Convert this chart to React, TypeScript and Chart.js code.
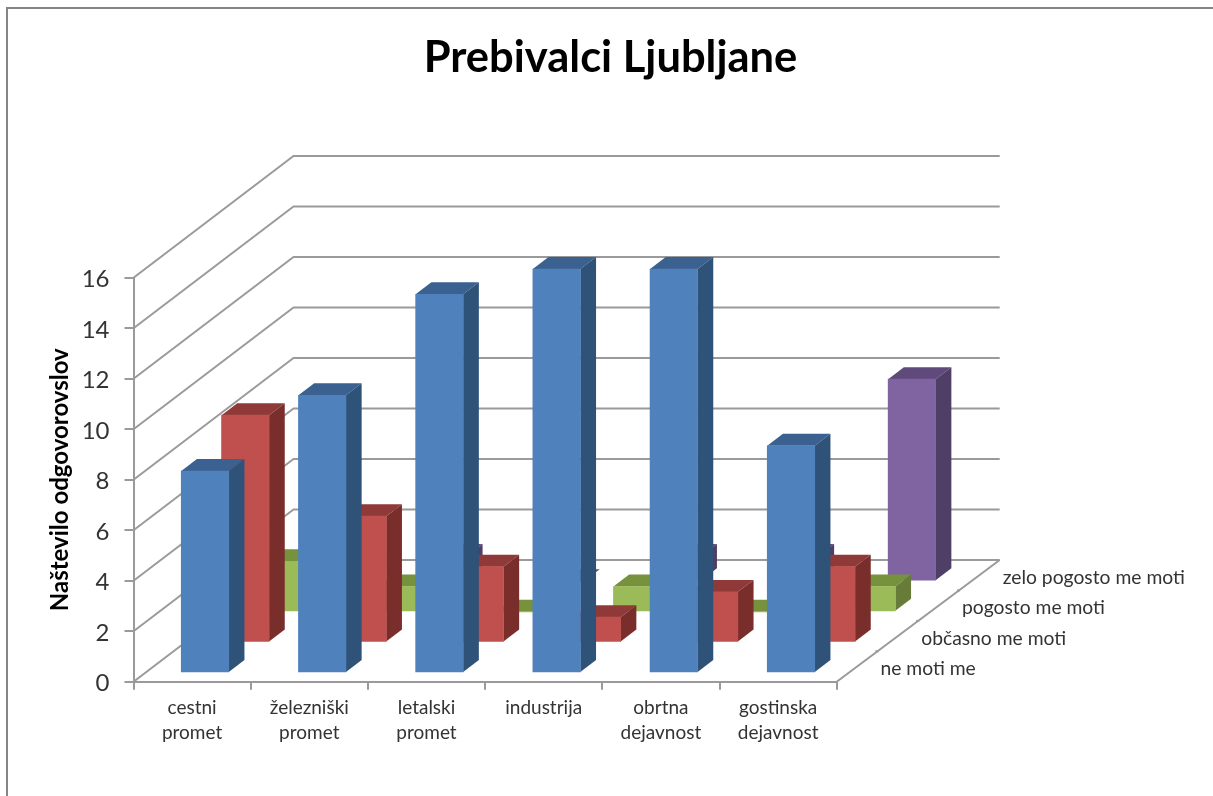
import React, { useEffect, useRef } from "react";
import { Chart, registerables } from "chart.js";

Chart.register(...registerables);

const categories = [
  ["cestni", "promet"],
  ["železniški", "promet"],
  ["letalski", "promet"],
  ["industrija"],
  ["obrtna", "dejavnost"],
  ["gostinska", "dejavnost"],
];
const seriesNames = ["ne moti me", "občasno me moti", "pogosto me moti", "zelo pogosto me moti"];
const neMotiMe = [8, 11, 15, 16, 16, 9];
const obcasnoMeMoti = [9, 5, 3, 1, 2, 3];
const pogostoMeMoti = [2, 1, 0, 1, 0, 1];
const zeloPogostoMeMoti = [0, 1, 0, 1, 1, 8];

const titleText = "Prebivalci Ljubljane";
const yTitleText = "Naštevilo odgovorovslov";

const FONT = "Lato, Carlito, Calibri, sans-serif";
const TEXT = "#333333";
const GRID = "#9a9a9a";

const frontColors = ["#4f81bd", "#c0504d", "#9bbb59", "#8064a2"];
const topColors = ["#3a6190", "#8f3a38", "#76923c", "#604a7b"];
const sideColors = ["#2f5279", "#7a2e2c", "#667c38", "#4f3e66"];

// oblique projection
const WALL_DX = 160;
const WALL_DY = -121.7;
const SERIES_DX = 40.3;
const SERIES_DY = -30.6;
const FIRST_DX = 12.9;
const FIRST_DY = -8.7;
const BAR_DX = 15.7;
const BAR_DY = -12;

const wallsPlugin = {
  id: "walls",
  beforeDraw(chart: any) {
    const { ctx, width } = chart;
    ctx.save();
    ctx.fillStyle = "#ffffff";
    ctx.fillRect(0, 0, width, chart.height);
    ctx.strokeStyle = "#858585";
    ctx.lineWidth = 2;
    ctx.beginPath();
    ctx.moveTo(7, chart.height);
    ctx.lineTo(7, 8);
    ctx.lineTo(width, 8);
    ctx.stroke();
    ctx.restore();
  },
  beforeDatasetsDraw(chart: any) {
    const { ctx, scales, chartArea } = chart;
    const y = scales.y;
    const left = chartArea.left;
    const right = chartArea.right;
    const bottom = chartArea.bottom;
    const backRight = right + WALL_DX + 3;
    ctx.save();
    ctx.strokeStyle = GRID;
    ctx.lineWidth = 2;
    ctx.lineJoin = "round";
    y.ticks.forEach((t: any) => {
      const py = y.getPixelForValue(t.value);
      ctx.beginPath();
      ctx.moveTo(left, py);
      ctx.lineTo(left + WALL_DX, py + WALL_DY);
      ctx.lineTo(backRight, py + WALL_DY);
      ctx.stroke();
    });
    ctx.beginPath();
    ctx.moveTo(right, bottom);
    ctx.lineTo(right + WALL_DX + 3, bottom + WALL_DY);
    ctx.stroke();
    ctx.fillStyle = TEXT;
    ctx.font = `19.3px ${FONT}`;
    ctx.textBaseline = "middle";
    ctx.textAlign = "left";
    seriesNames.forEach((name, i) => {
      const f = (i + 1) / seriesNames.length;
      const px = right + (WALL_DX + 3) * f;
      const py = bottom + WALL_DY * f;
      if (i < seriesNames.length - 1) {
        ctx.beginPath();
        ctx.moveTo(px + 1, py);
        ctx.lineTo(px - 2, py);
        ctx.stroke();
      }
      ctx.fillText(name, px + 3, py + 17.5);
    });
    ctx.restore();
  },
  beforeDatasetDraw(chart: any, args: any) {
    const { ctx } = chart;
    const k = args.index;
    ctx.save();
    ctx.translate(FIRST_DX + SERIES_DX * k, FIRST_DY + SERIES_DY * k);
    args.meta.data.forEach((bar: any) => {
      const { x, y, base, width } = bar.getProps(["x", "y", "base", "width"], true);
      const l = x - width / 2;
      const r = x + width / 2;
      ctx.fillStyle = topColors[k];
      ctx.beginPath();
      ctx.moveTo(l, y);
      ctx.lineTo(l + BAR_DX, y + BAR_DY);
      ctx.lineTo(r + BAR_DX, y + BAR_DY);
      ctx.lineTo(r, y);
      ctx.closePath();
      ctx.fill();
      ctx.fillStyle = sideColors[k];
      ctx.beginPath();
      ctx.moveTo(r, y);
      ctx.lineTo(r + BAR_DX, y + BAR_DY);
      ctx.lineTo(r + BAR_DX, base + BAR_DY);
      ctx.lineTo(r, base);
      ctx.closePath();
      ctx.fill();
    });
  },
  afterDatasetDraw(chart: any) {
    chart.ctx.restore();
  },
};

export default function App() {
  const ref = useRef<HTMLCanvasElement | null>(null);
  useEffect(() => {
    const values = [neMotiMe, obcasnoMeMoti, pogostoMeMoti, zeloPogostoMeMoti];
    const chart = new Chart(ref.current as HTMLCanvasElement, {
      type: "bar",
      data: {
        labels: categories as any,
        datasets: seriesNames.map((name, i) => ({
          label: name,
          data: values[i],
          backgroundColor: frontColors[i],
          barThickness: 47.5,
          grouped: false,
          clip: false as any,
          borderWidth: 0,
        })),
      },
      options: {
        responsive: false,
        animation: false,
        layout: { padding: { left: 8, right: 0, top: 0, bottom: 0 } },
        plugins: {
          legend: { display: false },
          tooltip: { enabled: false },
          title: {
            display: true,
            text: titleText,
            color: "#000000",
            font: { family: FONT, size: 43.5, weight: "bold", lineHeight: 1.2 },
            padding: { top: 32, bottom: 193.5 },
          },
        },
        scales: {
          x: {
            type: "category",
            afterFit: (s: any) => {
              s.height = 114.3;
            },
            grid: { drawOnChartArea: false, drawTicks: true, tickLength: 8, tickColor: GRID, tickWidth: 2, color: GRID, lineWidth: 2 },
            border: { color: GRID, width: 2 },
            ticks: {
              color: TEXT,
              autoSkip: false,
              maxRotation: 0,
              minRotation: 0,
              padding: 6,
              font: { family: FONT, size: 19, lineHeight: 1.32 },
            },
          },
          y: {
            type: "linear",
            min: 0,
            max: 16,
            afterFit: (s: any) => {
              s.width = 125.5;
            },
            grid: { drawOnChartArea: false, drawTicks: true, tickLength: 9, tickColor: GRID, tickWidth: 2, color: GRID, lineWidth: 2 },
            border: { color: GRID, width: 2 },
            ticks: {
              stepSize: 2,
              color: TEXT,
              padding: 15,
              labelOffset: 2,
              font: { family: FONT, size: 24 },
            },
            title: {
              display: true,
              text: yTitleText,
              color: "#000000",
              padding: { top: 37.6, bottom: 0 },
              font: { family: FONT, size: 24, weight: "bold", lineHeight: 1.2 },
            },
          },
          spacer: {
            type: "linear",
            position: "right",
            display: true,
            afterFit: (s: any) => {
              s.width = 376.3;
            },
            grid: { display: false },
            border: { display: false },
            ticks: { display: false },
          },
        },
      } as any,
      plugins: [wallsPlugin as any],
    });
    return () => chart.destroy();
  }, []);
  return (
    <canvas
      ref={ref}
      width={1213}
      height={796}
      style={{ position: "fixed", left: 0, top: 0, display: "block" }}
    />
  );
}
